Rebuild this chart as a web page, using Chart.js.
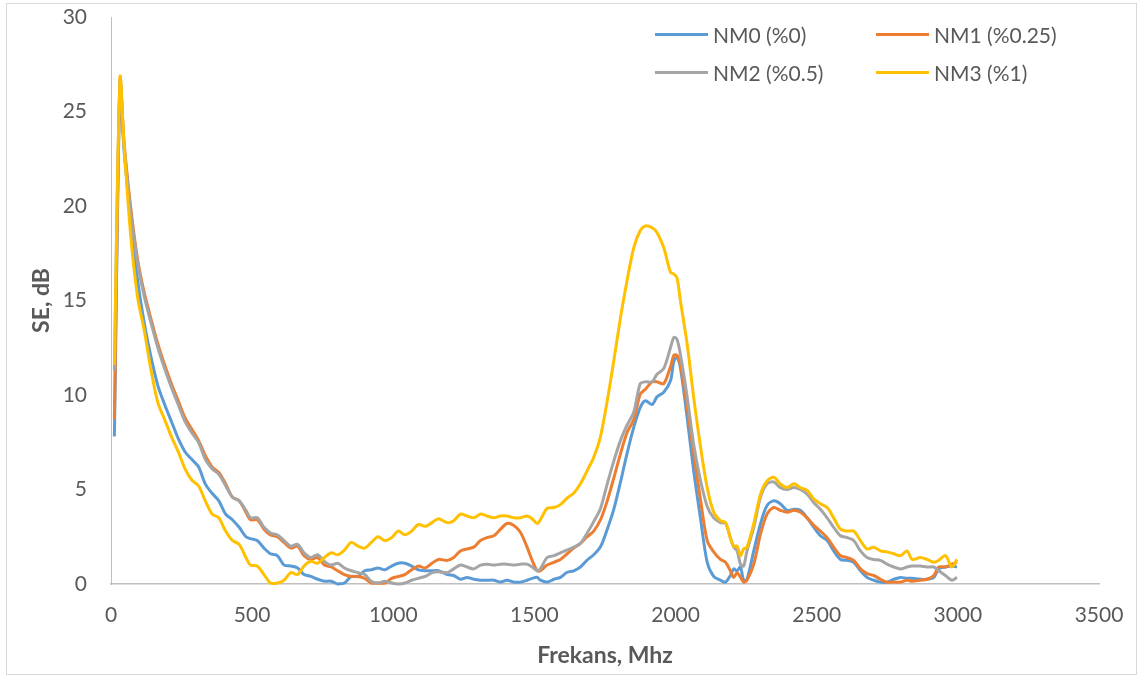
<!DOCTYPE html>
<html>
<head>
<meta charset="utf-8">
<script src="https://cdn.jsdelivr.net/npm/chart.js@4"></script>
<style>
  body { margin: 0; background: #fff; }
  #wrap { position: relative; width: 1143px; height: 677px; }
  #frame { position: absolute; left: 6px; top: 3px; width: 1131px; height: 672px; border: 1px solid #d9d9d9; box-sizing: border-box; }
  #legend { position: absolute; left: 655px; top: 15px; display: grid; grid-template-columns: 221px 221px; grid-auto-rows: 38px;
            font-family: Lato, sans-serif; font-size: 21px; color: #595959; }
  #legend div { display: flex; align-items: center; white-space: nowrap; }
  #legend span.ln { display: inline-block; width: 53px; height: 3px; margin-right: 5px; }
</style>
</head>
<body>
<div id="wrap">
  <div id="frame"></div>
  <canvas id="seChart" width="1143" height="677"></canvas>
  <div id="legend"></div>
</div>
<script>
// frequency (MHz) and shielding effectiveness (dB)
const freqMHz = [
  12,32,46,70,94,118,142,166,190,214,
  238,262,286,310,334,358,382,406,430,454,
  478,494,518,542,565,589,613,637,661,684,
  708,732,756,780,803,827,851,875,899,922,
  946,970,994,1018,1041,1065,1089,1113,1137,1160,
  1191,1214,1238,1261,1285,1309,1332,1356,1380,1403,
  1427,1450,1474,1492,1510,1521,1545,1569,1592,1616,
  1639,1663,1687,1710,1734,1758,1781,1805,1828,1852,
  1875,1893,1917,1934,1958,1982,1994,2005,2017,2041,
  2064,2088,2112,2135,2159,2177,2194,2206,2218,2230,
  2241,2253,2277,2301,2324,2348,2371,2395,2419,2442,
  2466,2490,2513,2537,2560,2584,2608,2631,2655,2678,
  2702,2726,2749,2773,2797,2820,2838,2867,2891,2915,
  2932,2956,2979,2997
];
const nm0 = [
  7.8,26.3,23.0,19.3,16.1,13.8,12.0,10.5,9.5,8.6,
  7.7,7.0,6.6,6.2,5.3,4.8,4.4,3.7,3.4,3.0,
  2.5,2.4,2.3,1.9,1.6,1.5,1.0,0.95,0.85,0.5,
  0.4,0.25,0.15,0.15,0.0,0.05,0.4,0.4,0.7,0.75,
  0.85,0.75,0.95,1.1,1.1,0.95,0.75,0.7,0.7,0.7,
  0.5,0.45,0.25,0.35,0.25,0.2,0.2,0.2,0.1,0.2,
  0.1,0.1,0.2,0.3,0.35,0.2,0.1,0.25,0.35,0.62,
  0.7,0.9,1.27,1.55,1.97,2.9,3.95,5.4,6.9,8.3,
  9.35,9.7,9.5,9.9,10.15,10.75,11.8,12.0,11.45,8.8,
  6.0,3.5,1.15,0.4,0.2,0.1,0.45,0.8,0.7,0.9,
  0.2,0.25,1.75,3.2,4.15,4.4,4.25,3.9,3.95,3.9,
  3.5,3.0,2.55,2.3,1.75,1.3,1.25,1.15,0.7,0.35,
  0.2,0.1,0.1,0.25,0.35,0.3,0.3,0.25,0.25,0.35,
  0.8,0.9,0.95,0.9
];
const nm1 = [
  8.7,26.7,23.4,19.9,17.2,15.4,14.0,12.7,11.6,10.6,
  9.7,8.8,8.2,7.6,6.8,6.2,5.9,5.3,4.6,4.4,
  3.8,3.4,3.4,2.9,2.6,2.5,2.2,1.9,2.0,1.5,
  1.3,1.4,1.0,0.9,0.7,0.5,0.4,0.4,0.3,0.05,
  0.05,0.05,0.3,0.4,0.5,0.75,0.95,0.85,1.1,1.3,
  1.25,1.4,1.75,1.85,1.95,2.3,2.45,2.55,2.9,3.2,
  3.1,2.75,1.95,1.25,0.7,0.7,1.0,1.15,1.3,1.6,
  1.9,2.15,2.5,2.8,3.4,4.4,5.6,6.9,8.0,8.7,
  10.05,10.3,10.7,10.7,10.6,11.5,12.1,12.1,11.6,9.35,
  6.9,4.5,2.3,1.7,1.3,1.15,0.7,0.35,0.6,0.35,
  0.1,0.2,1.05,2.65,3.7,4.05,3.9,3.8,3.9,3.8,
  3.5,3.1,2.8,2.45,1.95,1.5,1.4,1.25,0.8,0.55,
  0.45,0.25,0.1,0.1,0.1,0.2,0.15,0.2,0.25,0.45,
  0.9,0.9,1.05,1.15
];
const nm2 = [
  11.3,26.6,23.3,19.7,17.0,15.2,13.8,12.5,11.4,10.4,
  9.5,8.6,8.0,7.5,6.6,6.1,5.8,5.2,4.6,4.4,
  3.9,3.5,3.5,3.0,2.7,2.6,2.3,2.0,2.1,1.65,
  1.4,1.55,1.2,1.0,1.1,0.85,0.7,0.6,0.5,0.15,
  0.05,0.15,0.05,0.0,0.05,0.2,0.3,0.4,0.6,0.65,
  0.6,0.8,1.0,0.9,0.8,1.0,1.05,1.0,1.05,1.05,
  1.0,1.05,1.05,0.9,0.7,0.8,1.4,1.5,1.65,1.8,
  1.95,2.15,2.7,3.3,4.0,5.3,6.5,7.6,8.4,9.1,
  10.6,10.7,10.7,11.1,11.4,12.5,13.05,12.95,12.15,9.9,
  7.4,5.5,4.1,3.5,3.25,3.2,2.45,1.95,1.75,1.05,
  0.95,1.75,3.0,4.6,5.3,5.4,5.1,5.0,5.1,5.0,
  4.75,4.3,3.95,3.5,3.0,2.55,2.45,2.3,1.75,1.4,
  1.3,1.25,1.05,0.9,0.8,0.9,0.95,0.95,0.9,0.9,
  0.7,0.45,0.2,0.35
];
const nm3 = [
  11.6,26.8,23.3,18.4,15.2,13.4,11.3,9.6,8.7,7.8,
  7.0,6.1,5.5,5.2,4.4,3.7,3.5,2.8,2.3,2.1,
  1.4,1.0,0.95,0.5,0.05,0.05,0.2,0.6,0.5,0.95,
  1.2,1.1,1.4,1.65,1.55,1.8,2.2,2.0,1.9,2.2,
  2.5,2.3,2.45,2.8,2.6,2.8,3.15,3.05,3.25,3.45,
  3.25,3.35,3.7,3.6,3.5,3.7,3.6,3.5,3.6,3.6,
  3.5,3.5,3.6,3.45,3.2,3.4,4.0,4.05,4.2,4.55,
  4.8,5.3,6.0,6.7,7.8,9.7,11.8,14.1,16.05,17.8,
  18.7,18.95,18.85,18.6,17.8,16.5,16.4,16.2,15.0,12.7,
  9.9,7.3,5.1,3.8,3.35,3.25,2.45,2.0,2.0,1.5,
  1.85,1.95,3.2,4.75,5.45,5.65,5.3,5.1,5.3,5.1,
  4.95,4.5,4.25,4.05,3.5,2.9,2.8,2.8,2.3,1.85,
  1.95,1.75,1.7,1.6,1.5,1.75,1.3,1.4,1.3,1.15,
  1.25,1.5,0.9,1.3
];
const seriesNames = ['NM0 (%0)', 'NM1 (%0.25)', 'NM2 (%0.5)', 'NM3 (%1)'];
const seriesColors = ['#5B9BD5', '#ED7D31', '#A5A5A5', '#FFC000'];
const seriesValues = [nm0, nm1, nm2, nm3];

const FONT = 'Lato, sans-serif';
const TXT = '#595959';

const datasets = seriesValues.map((vals, i) => ({
  label: seriesNames[i],
  data: freqMHz.map((f, k) => ({ x: f, y: vals[k] })),
  borderColor: seriesColors[i],
  backgroundColor: seriesColors[i],
  borderWidth: 3,
  pointRadius: 0,
  tension: 0.3,
  fill: false,
  clip: false,
  order: seriesValues.length - i
}));

new Chart(document.getElementById('seChart'), {
  type: 'line',
  data: { datasets: datasets },
  options: {
    responsive: false,
    animation: false,
    layout: { padding: { left: 20, right: 44, top: 17, bottom: 8 } },
    plugins: { legend: { display: false }, tooltip: { enabled: false } },
    scales: {
      x: {
        type: 'linear', min: 0, max: 3500,
        ticks: { stepSize: 500, padding: 19, color: TXT, font: { family: FONT, size: 21 }, maxRotation: 0, callback: v => v },
        grid: { drawOnChartArea: false, drawTicks: false },
        border: { color: '#BFBFBF', width: 1.5 },
        title: { display: true, text: 'Frekans, Mhz', color: TXT, font: { family: FONT, size: 23, weight: 'bold' }, padding: { top: 0, bottom: 0 } },
        afterFit: s => { s.height = 85; s.paddingLeft = 0; s.paddingRight = 0; }
      },
      y: {
        min: 0, max: 30,
        ticks: { stepSize: 5, padding: 24, color: TXT, font: { family: FONT, size: 21 } },
        grid: { drawOnChartArea: false, drawTicks: false },
        border: { color: '#BFBFBF', width: 1 },
        title: { display: true, text: 'SE, dB', color: TXT, font: { family: FONT, size: 23, weight: 'bold' }, padding: { top: 8, bottom: 0 } },
        afterFit: s => { s.width = 91; s.paddingTop = 0; s.paddingBottom = 0; }
      }
    }
  }
});

const legend = document.getElementById('legend');
seriesNames.forEach((name, i) => {
  const item = document.createElement('div');
  item.innerHTML = '<span class="ln" style="background:' + seriesColors[i] + '"></span>' + name;
  legend.appendChild(item);
});
</script>
</body>
</html>
